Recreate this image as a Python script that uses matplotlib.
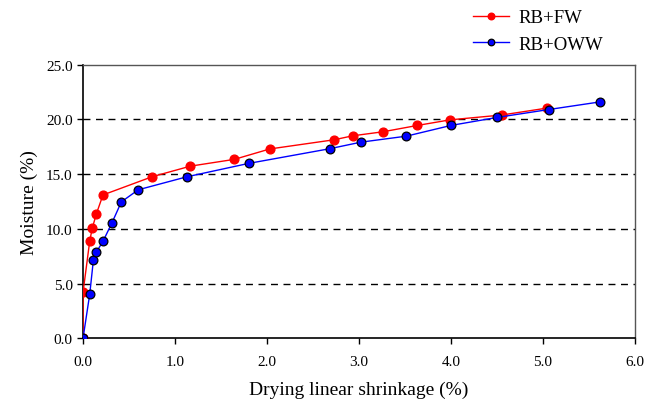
import matplotlib.pyplot as plt
import numpy as np

plt.rcParams['font.family'] = ['Liberation Serif', 'DejaVu Serif']

# RB+FW
fw_x = [0.0, 0.0, 0.073, 0.10, 0.146, 0.217, 0.75, 1.167, 1.645, 2.03, 2.73, 2.93, 3.26, 3.635, 3.99, 4.55, 5.04]
fw_y = [0.0, 4.2, 8.9, 10.05, 11.4, 13.1, 14.76, 15.73, 16.35, 17.3, 18.14, 18.5, 18.87, 19.45, 19.96, 20.4, 21.03]
# RB+OWW
oww_x = [0.0, 0.073, 0.113, 0.146, 0.217, 0.315, 0.417, 0.60, 1.13, 1.80, 2.68, 3.02, 3.515, 4.00, 4.50, 5.06, 5.62]
oww_y = [0.0, 4.05, 7.18, 7.9, 8.86, 10.56, 12.47, 13.57, 14.76, 15.98, 17.32, 17.92, 18.47, 19.45, 20.18, 20.9, 21.6]

xticks = np.arange(0, 6.1, 1.0)
yticks = np.arange(0, 25.1, 5.0)

fig = plt.figure(figsize=(6.59, 4.10), dpi=100)
ax = fig.add_axes([0.126, 0.1724, 0.8376, 0.6674])

for y in yticks[1:-1]:
    ax.axhline(y, color='black', lw=1, ls=(0, (5, 4)), zorder=1)

ax.plot(fw_x, fw_y, '-o', color='#ff0000', lw=1.0, ms=6.3, mec='#ff0000',
        label='RB+FW', zorder=3)
ax.plot(oww_x, oww_y, '-o', color='#0000ff', lw=1.0, ms=6.3, mfc='#0000ff',
        mec='black', mew=0.9, label='RB+OWW', zorder=4)

ax.set_xlim(0, 6)
ax.set_ylim(0, 25)
ax.set_xticks(xticks)
ax.set_yticks(yticks)
ax.set_xticklabels(['%.1f' % v for v in xticks])
ax.set_yticklabels(['%.1f' % v for v in yticks])
ax.tick_params(direction='out', length=4, width=1, labelsize=11, color='black')
ax.tick_params(axis='x', pad=8)

for s in ['left', 'bottom']:
    ax.spines[s].set_color('black')
    ax.spines[s].set_linewidth(1.2)
for s in ['top', 'right']:
    ax.spines[s].set_color('#555555')
    ax.spines[s].set_linewidth(1)

ax.set_xlabel('Drying linear shrinkage (%)', fontsize=14, labelpad=9)
ax.set_ylabel('Moisture (%)', fontsize=14, labelpad=6)

fig.legend(loc='upper left', bbox_to_anchor=(0.718, 0.975), frameon=False,
           fontsize=13.5, handlelength=1.9, handletextpad=0.5, markerscale=0.75,
           borderpad=0, borderaxespad=0)

fig.savefig('out.png', dpi=100)
